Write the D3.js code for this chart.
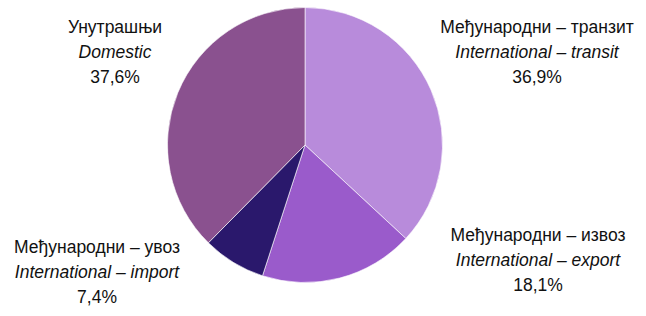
<!DOCTYPE html>
<html><head><meta charset="utf-8">
<script src="https://cdn.jsdelivr.net/npm/d3@7"></script>
<style>body{margin:0;background:#fff}svg{display:block}text{font-family:"Liberation Sans Narrow","Arial Narrow","Liberation Sans",Arial,sans-serif;font-size:17.5px;fill:#111}</style>
</head><body><svg id="c" width="646" height="316"></svg>
<script>
const categoriesSr = ["Међународни – транзит","Међународни – извоз","Међународни – увоз","Унутрашњи"];
const categoriesEn = ["International – transit","International – export","International – import","Domestic"];
const values = [36.9, 18.1, 7.4, 37.6];
const colors = ["#b88bdb","#9a5bcb","#2a186c","#8a518f"];
// label anchor positions (layout only)
const labelPos = [[537,33],[538,241],[97,253],[115,33]];

const svg = d3.select("#c");
const cx = 305, cy = 145, r = 137.5;
const pie = d3.pie().sort(null).value(d => d)(values);
const arc = d3.arc().innerRadius(0).outerRadius(r);
const g = svg.append("g").attr("transform", `translate(${cx},${cy})`);
g.selectAll("path").data(pie).join("path")
  .attr("d", arc).attr("fill", (d,i) => colors[i])
  .attr("stroke", "#fff").attr("stroke-width", 0.6);

const fmt = v => d3.format(".1f")(v).replace(".", ",") + "%";
const lg = svg.selectAll("g.lab").data(values).join("g").attr("class","lab")
  .attr("transform", (d,i) => `translate(${labelPos[i][0]},${labelPos[i][1]})`);
lg.append("text").attr("text-anchor","middle").text((d,i)=>categoriesSr[i]);
lg.append("text").attr("text-anchor","middle").attr("y",25).style("font-style","italic").text((d,i)=>categoriesEn[i]);
lg.append("text").attr("text-anchor","middle").attr("y",50).text(d=>fmt(d));
</script></body></html>
